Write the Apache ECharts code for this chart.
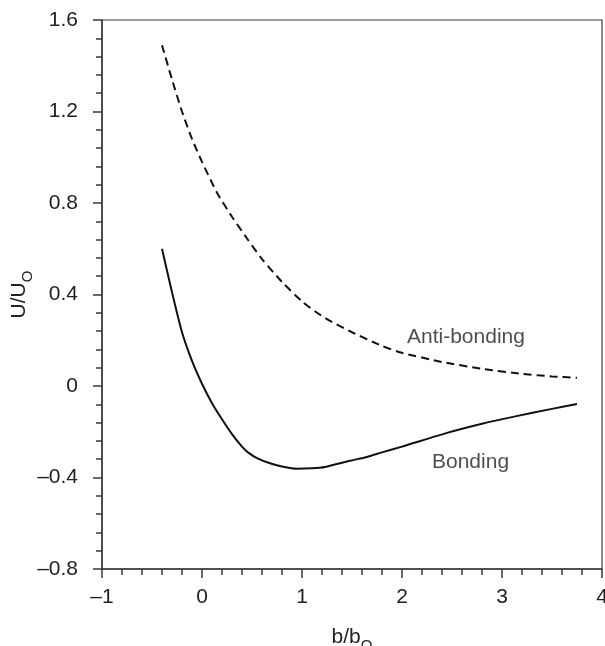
<!DOCTYPE html>
<html>
<head>
<meta charset="utf-8">
<script src="https://cdn.jsdelivr.net/npm/echarts@6/dist/echarts.min.js"></script>
<style>
html,body{margin:0;padding:0;background:#fff;}
#main{width:605px;height:646px;}
</style>
</head>
<body>
<div id="main"></div>
<script>
// Anti-bonding (dashed) curve
const antiX = [-0.40,-0.30,-0.20,-0.10,0.00,0.15,0.30,0.45,0.60,0.80,1.00,1.15,1.30,1.50,1.80,2.00,2.40,2.80,3.20,3.50,3.75];
const antiY = [1.49,1.34,1.20,1.08,0.98,0.845,0.74,0.645,0.555,0.455,0.37,0.32,0.28,0.235,0.175,0.145,0.105,0.075,0.053,0.042,0.036];
// Bonding (solid) curve
const bondX = [-0.40,-0.30,-0.20,-0.10,0.00,0.10,0.20,0.30,0.40,0.46,0.55,0.68,0.80,0.95,1.10,1.23,1.48,1.65,1.80,2.00,2.45,2.80,3.11,3.50,3.75];
const bondY = [0.60,0.41,0.235,0.11,0.01,-0.075,-0.145,-0.21,-0.265,-0.29,-0.315,-0.338,-0.352,-0.362,-0.36,-0.354,-0.327,-0.31,-0.29,-0.265,-0.205,-0.165,-0.135,-0.10,-0.079];
// Curve labels
const labelTexts = ['Anti-bonding','Bonding'];
const labelX = [2.05, 2.30];
const labelY = [0.214, -0.332];
// Tick labels
const xTickValues = [-1,0,1,2,3,4];
const xTickLabels = ['\u20131','0','1','2','3','4'];
const yTickValues = [-0.8,-0.4,0,0.4,0.8,1.2,1.6];
const yTickLabels = ['\u20130.8','\u20130.4','0','0.4','0.8','1.2','1.6'];

function lookup(vals, labs, v){
  for (let i=0;i<vals.length;i++){ if (Math.abs(vals[i]-v)<1e-6) return labs[i]; }
  return '';
}

const FONT = "'Liberation Sans', Arial, Helvetica, sans-serif";
const AX = '#3a3a3a';
const FS = 21;
const chart = echarts.init(document.getElementById('main'), null, {renderer:'canvas'});
const nameRich = {a:{fontFamily:FONT,fontSize:FS,color:'#222',lineHeight:32,verticalAlign:'middle'},s:{fontFamily:FONT,fontSize:15,color:'#222',lineHeight:15,verticalAlign:'bottom'}};
const option = {
  animation:false,
  backgroundColor:'#fff',
  grid:{left:102,right:3,top:20,bottom:77,containLabel:false,outerBoundsMode:'none',show:true,borderColor:AX,borderWidth:1.2},
  xAxis:{
    type:'value',min:-1,max:4,interval:1,
    name:'{a|b/b}{s|O}',nameLocation:'middle',nameGap:52,nameMoveOverlap:false,
    nameTextStyle:{rich:nameRich},
    axisLine:{show:true,onZero:false,lineStyle:{color:AX,width:1.5}},
    axisTick:{show:true,inside:false,length:9,lineStyle:{color:AX,width:1.5}},
    minorTick:{show:true,splitNumber:5,length:6,lineStyle:{color:AX,width:1.5}},
    splitLine:{show:false},
    axisLabel:{margin:18,fontFamily:FONT,fontSize:FS,color:'#222',hideOverlap:false,formatter:v=>lookup(xTickValues,xTickLabels,v)}
  },
  yAxis:{
    type:'value',min:-0.8,max:1.6,interval:0.4,
    name:'{a|U/U}{s|O}',nameLocation:'middle',nameGap:67,nameRotate:90,nameMoveOverlap:false,
    nameTextStyle:{rich:nameRich},
    axisLine:{show:true,onZero:false,lineStyle:{color:AX,width:1.5}},
    axisTick:{show:true,inside:false,length:9,lineStyle:{color:AX,width:1.5}},
    minorTick:{show:true,splitNumber:5,length:6,lineStyle:{color:AX,width:1.5}},
    splitLine:{show:false},
    axisLabel:{margin:24,fontFamily:FONT,fontSize:FS,color:'#222',formatter:v=>lookup(yTickValues,yTickLabels,v)}
  },
  series:[
    {type:'line',name:'Anti-bonding',data:antiX.map((x,i)=>[x,antiY[i]]),showSymbol:false,smooth:0.2,
     lineStyle:{color:'#111',width:2,type:[8,5]}},
    {type:'line',name:'Bonding',data:bondX.map((x,i)=>[x,bondY[i]]),showSymbol:false,smooth:0.2,
     lineStyle:{color:'#111',width:2,type:'solid'}},
    {type:'scatter',symbolSize:0,data:labelX.map((x,i)=>({value:[x,labelY[i]],name:labelTexts[i]})),
     label:{show:true,position:'right',distance:0,formatter:p=>p.name,fontFamily:FONT,fontSize:FS,color:'#222'},silent:true}
  ]
};
chart.setOption(option);
</script>
</body>
</html>
